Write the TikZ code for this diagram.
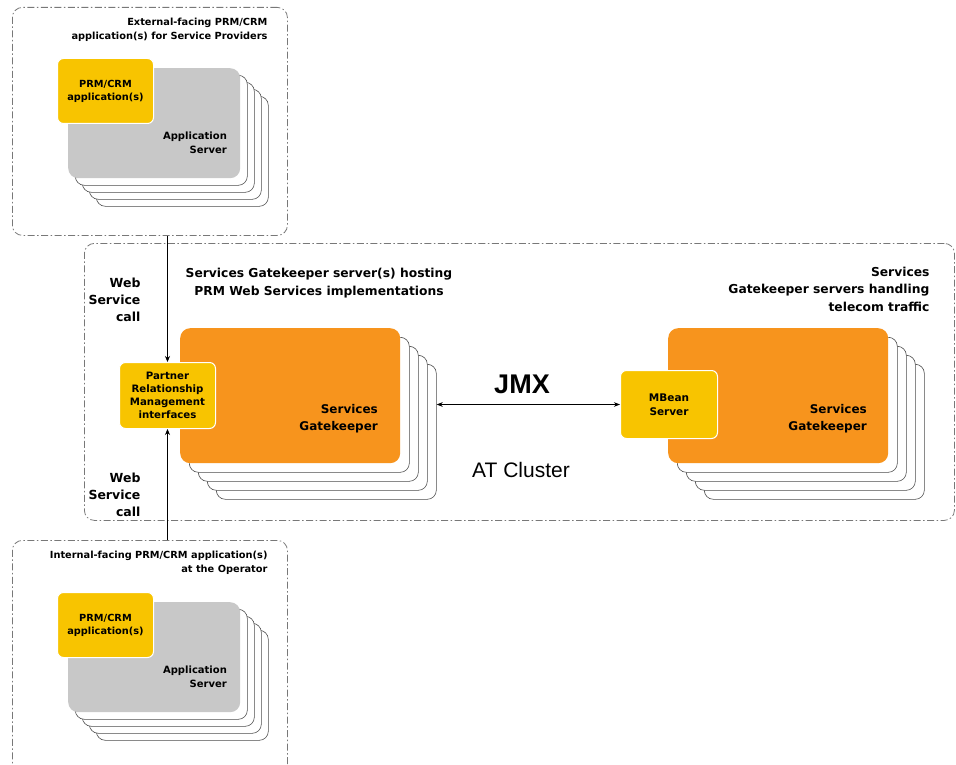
\documentclass[tikz,border=0pt]{standalone}
\usepackage{fontspec}
\setmainfont{DejaVu Sans}
\newfontfamily\arialfont{Liberation Sans}
\usetikzlibrary{arrows.meta,calc,positioning}
\definecolor{sgOrange}{RGB}{247,148,29}
\definecolor{ifYellow}{RGB}{248,196,0}
\definecolor{asGray}{RGB}{200,200,200}
\definecolor{frameGray}{RGB}{120,120,120}
\colorlet{cardStroke}{black!70}
\newcommand{\CardStep}{7}
\newcommand{\SgStep}{9}
% #1=name  #2=x  #3=y  #4=width  #5=height  #6=step  #7=fill
\newcommand{\PlaceStack}[7]{%
  \foreach \k in {4,3,2,1}{%
    \node[backcard, minimum width=#4, minimum height=#5]
      (#1\k) at (#2+\k*#6, #3+\k*#6) {};
  }%
  \node[frontcard, fill=#7, minimum width=#4, minimum height=#5]
    (#1) at (#2,#3) {};
}

\begin{document}
\begin{tikzpicture}[
  x=1pt, y=-1pt,
  >=Stealth,
  frame/.style     = {draw=frameGray, line width=0.8pt, rounded corners=10pt,
                      dash pattern=on 7pt off 2.5pt on 1.5pt off 2.5pt,
                      anchor=north west, inner sep=0pt},
  backcard/.style  = {draw=cardStroke, fill=white, line width=0.6pt,
                      rounded corners=9pt, anchor=north west, inner sep=0pt},
  frontcard/.style = {rounded corners=10pt, anchor=north west, inner sep=0pt},
  ifbox/.style     = {fill=ifYellow, draw=white, line width=1pt, rounded corners=6pt,
                      anchor=north west, inner sep=0pt, align=center,
                      font=\bfseries\fontsize{9.8}{13}\selectfont},
  boxtitle/.style  = {font=\bfseries\fontsize{9.8}{14}\selectfont, align=right, anchor=east},
  title/.style     = {font=\bfseries\fontsize{12.3}{17.5}\selectfont},
  lbl/.style       = {font=\bfseries\fontsize{12}{17}\selectfont, align=right, anchor=east},
  smalllbl/.style  = {font=\bfseries\fontsize{10}{14}\selectfont, align=right, anchor=east},
  arr/.style       = {line width=0.7pt, -{Stealth[length=6pt,width=5pt]}},
]
\useasboundingbox (0,0) rectangle (956,765);

% ----------------------------------------------------------------
% Dash-dot frames
% ----------------------------------------------------------------
\node[frame, minimum width=275pt, minimum height=228pt] (extf) at (12,7) {};
\node[frame, minimum width=870pt, minimum height=277pt] (atc) at (84,243) {};
\node[frame, minimum width=275pt, minimum height=240pt] (intf) at (12,540) {};

% ----------------------------------------------------------------
% Server stacks
% ----------------------------------------------------------------
\PlaceStack{appA}{68}{68}{172pt}{110pt}{\CardStep}{asGray}
\PlaceStack{sgL}{180}{328}{220pt}{135pt}{\SgStep}{sgOrange}
\PlaceStack{sgR}{668}{328}{220pt}{135pt}{\SgStep}{sgOrange}
\PlaceStack{appB}{68}{602}{172pt}{110pt}{\CardStep}{asGray}

% ----------------------------------------------------------------
% Yellow interface boxes
% ----------------------------------------------------------------
\node[ifbox, minimum width=96pt, minimum height=65pt] (crmA) at (57,58)
  {PRM/CRM\\application(s)};
\node[ifbox, minimum width=96pt, minimum height=65pt] (crmB) at (57,592)
  {PRM/CRM\\application(s)};
\node[ifbox, minimum width=96pt, minimum height=66pt,
      font=\bfseries\fontsize{10.2}{13}\selectfont] (prm) at (119,362)
  {Partner\\Relationship\\Management\\interfaces};
\node[ifbox, minimum width=97pt, minimum height=68pt,
      font=\bfseries\fontsize{10.5}{14}\selectfont] (mbean) at (620,370)
  {MBean\\Server};

% ----------------------------------------------------------------
% Labels
% ----------------------------------------------------------------
\node[smalllbl] (appAtxt) at ($(appA.east)+(-10,20)$) {Application\\Server};
\node[smalllbl] (appBtxt) at ($(appB.east)+(-10,20)$) {Application\\Server};
\node[lbl] (sgLtxt) at ($(sgL.east)+(-19,23)$) {Services\\Gatekeeper};
\node[lbl] (sgRtxt) at ($(sgR.east)+(-18,23)$) {Services\\Gatekeeper};

\node[boxtitle] (extTitle) at (271,30)
  {External-facing PRM/CRM\\application(s) for Service Providers};
\node[boxtitle] (intTitle) at (271,563)
  {Internal-facing PRM/CRM application(s)\\at the Operator};

\node[title, align=center] (sgLTitle) at (319,283)
  {Services Gatekeeper server(s) hosting\\PRM Web Services implementations};
\node[title, align=right, anchor=east] (sgRTitle) at (933,289)
  {Services\\Gatekeeper servers handling\\telecom traffic};

\node[lbl, font=\bfseries\fontsize{12.5}{17}\selectfont] (wsTop) at (144,300) {Web\\Service\\call};
\node[lbl, font=\bfseries\fontsize{12.5}{17}\selectfont] (wsBot) at (144,495) {Web\\Service\\call};

\node[font=\arialfont\bfseries\fontsize{27}{30}\selectfont] (jmx) at (522,384) {JMX};
\node[font=\arialfont\fontsize{21}{24}\selectfont] (cluster) at (521,470) {AT Cluster};

% ----------------------------------------------------------------
% Connectors
% ----------------------------------------------------------------
\draw[arr] (extf.south -| prm.north) -- (prm.north);
\draw[arr] (intf.north -| prm.south) -- (prm.south);
\draw[arr, <->] (sgL4.east |- mbean.west) -- (mbean.west);

\end{tikzpicture}
\end{document}
